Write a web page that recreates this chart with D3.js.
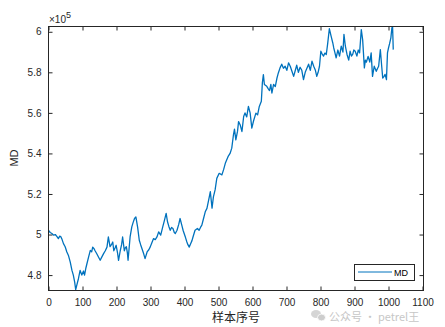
<!DOCTYPE html>
<html><head><meta charset="utf-8">
<script src="https://cdn.jsdelivr.net/npm/d3@7"></script>
<style>html,body{margin:0;padding:0;background:#fff;}svg{display:block;}</style>
</head><body>
<svg id="c" width="445" height="327"></svg>
<script>
const sampleIdx = [0,5,10,15,20,25,29,33,36,40,44,49,54,59,64,69,73,77,80,84,88,93,98,103,106,110,113,118,123,127,130,134,137,142,147,152,157,162,167,172,176,181,185,189,192,196,199,203,206,211,215,218,223,226,229,232,234,237,240,245,249,253,257,262,267,271,275,280,284,290,295,299,304,309,314,319,324,330,336,341,346,350,354,358,362,366,370,373,378,383,387,392,396,399,403,407,410,414,418,422,425,431,438,443,447,451,456,461,466,471,476,481,485,490,495,502,510,515,520,528,534,539,544,547,551,556,559,564,569,574,578,583,588,593,598,603,610,615,620,626,629,632,635,642,646,650,654,657,662,667,672,676,681,686,691,696,701,706,711,716,721,726,730,735,740,745,750,755,760,765,770,775,780,785,789,793,797,801,805,809,813,817,821,826,831,836,839,842,846,851,856,861,866,869,873,878,883,887,891,895,898,902,907,911,915,920,924,929,932,935,940,945,949,953,958,964,968,971,976,980,983,987,990,994,997,1000,1003,1007,1010,1012,1014];
const mdValues = [5.021,5.01,5.005,4.997,5.0,4.99,4.98,4.992,4.99,4.975,4.955,4.94,4.914,4.895,4.864,4.823,4.80,4.765,4.728,4.755,4.782,4.823,4.80,4.82,4.80,4.835,4.856,4.89,4.922,4.915,4.938,4.93,4.92,4.905,4.889,4.873,4.89,4.906,4.92,4.938,4.988,4.94,4.95,4.963,4.92,4.935,4.947,4.91,4.873,4.92,4.95,4.988,4.92,4.935,4.94,4.91,4.873,4.93,4.988,5.038,5.06,5.079,5.087,5.038,4.972,4.95,4.93,4.905,4.881,4.914,4.925,4.938,4.96,4.98,4.975,4.988,5.013,4.997,5.038,5.07,5.104,5.063,5.04,5.021,5.035,5.03,5.01,5.005,5.021,5.05,5.079,5.046,5.02,5.005,4.985,4.963,4.95,4.938,4.955,4.97,4.988,5.021,5.03,5.021,5.035,5.046,5.079,5.112,5.129,5.17,5.211,5.13,5.186,5.22,5.277,5.302,5.294,5.32,5.351,5.384,5.40,5.426,5.492,5.52,5.467,5.51,5.557,5.54,5.508,5.582,5.60,5.58,5.632,5.60,5.525,5.56,5.599,5.59,5.632,5.657,5.748,5.789,5.74,5.731,5.72,5.71,5.74,5.698,5.74,5.73,5.772,5.797,5.822,5.84,5.82,5.83,5.81,5.847,5.83,5.805,5.78,5.81,5.835,5.80,5.825,5.81,5.764,5.80,5.82,5.84,5.81,5.855,5.83,5.81,5.78,5.80,5.83,5.904,5.89,5.88,5.895,5.888,5.94,6.015,5.98,5.946,5.92,5.90,5.871,5.91,5.88,5.929,5.90,5.987,5.93,5.888,5.86,5.904,5.88,5.89,5.91,5.904,5.88,5.91,5.896,6.011,5.96,5.822,5.86,5.85,5.879,5.85,5.896,5.78,5.83,5.805,5.82,5.83,5.912,5.83,5.772,5.78,5.79,5.764,5.896,5.92,5.94,5.97,6.02,6.026,5.912];
const xTicks = [0,100,200,300,400,500,600,700,800,900,1000,1100];
const yTicks = [4.8,5.0,5.2,5.4,5.6,5.8,6.0];
const yTickLabels = ["4.8","5","5.2","5.4","5.6","5.8","6"];
const seriesName = "MD";
const xLabel = "样本序号";
const yLabel = "MD";
const expLabel = "5";
const watermark = "公众号 · petrel王";

const svg = d3.select("#c");
const L = 48.5, R = 423.5, T = 26.5, B = 290.5;
const x = d3.scaleLinear().domain([0,1100]).range([L, R - 1]);
const y = d3.scaleLinear().domain([4.724, 6.026]).range([B, T]);
const font = "'Liberation Sans', Arial, Helvetica, sans-serif";
const axCol = "#262626";

svg.append("defs").append("clipPath").attr("id","clip")
  .append("rect").attr("x",L).attr("y",T).attr("width",R-L).attr("height",B-T);

// line
const data = sampleIdx.map((s,i)=>[s, mdValues[i]]);
svg.append("path").datum(data)
  .attr("clip-path","url(#clip)")
  .attr("fill","none").attr("stroke","#0072BD").attr("stroke-width",1.3)
  .attr("stroke-linejoin","round")
  .attr("d", d3.line().x(d=>x(d[0])).y(d=>y(d[1])));

// axes
const g = svg.append("g");
const xb = g.append("g").attr("transform",`translate(0,${B})`)
  .call(d3.axisBottom(x).tickValues(xTicks).tickSizeInner(-4).tickSizeOuter(0).tickPadding(8).tickFormat(d3.format("d")));
const xt = g.append("g").attr("transform",`translate(0,${T})`)
  .call(d3.axisTop(x).tickValues(xTicks).tickSizeInner(-4).tickSizeOuter(0).tickFormat(""));
const yl = g.append("g").attr("transform",`translate(${L},0)`)
  .call(d3.axisLeft(y).tickValues(yTicks).tickSizeInner(-4).tickSizeOuter(0).tickPadding(7)
    .tickFormat((d,i)=>yTickLabels[i]));
const yr = g.append("g").attr("transform",`translate(${R},0)`)
  .call(d3.axisRight(y).tickValues(yTicks).tickSizeInner(-4).tickSizeOuter(0).tickFormat(""));
[xb,xt,yl,yr].forEach(a=>{
  a.select(".domain").remove();
  a.selectAll("line").attr("stroke",axCol);
  a.selectAll("text").attr("fill",axCol).style("font-family",font).style("font-size","10px");
});
// box
svg.append("rect").attr("x",L).attr("y",T).attr("width",R-L).attr("height",B-T)
  .attr("fill","none").attr("stroke",axCol).attr("stroke-width",1);

// exponent
const ex = svg.append("text").attr("x",49).attr("y",22.5).attr("fill",axCol)
  .style("font-family",font).style("font-size","10px");
ex.append("tspan").text("×10");
ex.append("tspan").attr("dy",-5).style("font-size","9px").text(expLabel);

// labels
svg.append("text").attr("x",236).attr("y",322).attr("text-anchor","middle").attr("fill",axCol)
  .style("font-family","'Noto Sans CJK SC', sans-serif").style("font-size","12px").text(xLabel);
svg.append("text").attr("transform","translate(18,158) rotate(-90)").attr("text-anchor","middle")
  .attr("fill",axCol).style("font-family",font).style("font-size","11px").text(yLabel);

// legend
const lg = svg.append("g");
lg.append("rect").attr("x",354.5).attr("y",264.5).attr("width",60).attr("height",16)
  .attr("fill","#fff").attr("stroke",axCol).attr("stroke-width",1);
lg.append("line").attr("x1",358).attr("x2",392).attr("y1",272).attr("y2",272)
  .attr("stroke","#0072BD").attr("stroke-width",1);
lg.append("text").attr("x",394).attr("y",275.5).attr("fill","#000")
  .style("font-family",font).style("font-size","9px").text(seriesName);

// watermark (shifted just below the tick labels)
const wm = svg.append("g").attr("opacity",0.75);
wm.append("ellipse").attr("cx",316).attr("cy",314).attr("rx",5).attr("ry",4).attr("fill","#c8c8c8");
wm.append("ellipse").attr("cx",321.5).attr("cy",317.5).attr("rx",4).attr("ry",3.4).attr("fill","#bdbdbd").attr("stroke","#fff").attr("stroke-width",0.8);
wm.append("text").attr("x",329).attr("y",321).attr("fill","#b4b4b4")
  .style("font-family","'Noto Sans CJK SC', sans-serif").style("font-size","11px").text(watermark);
</script>
</body></html>
